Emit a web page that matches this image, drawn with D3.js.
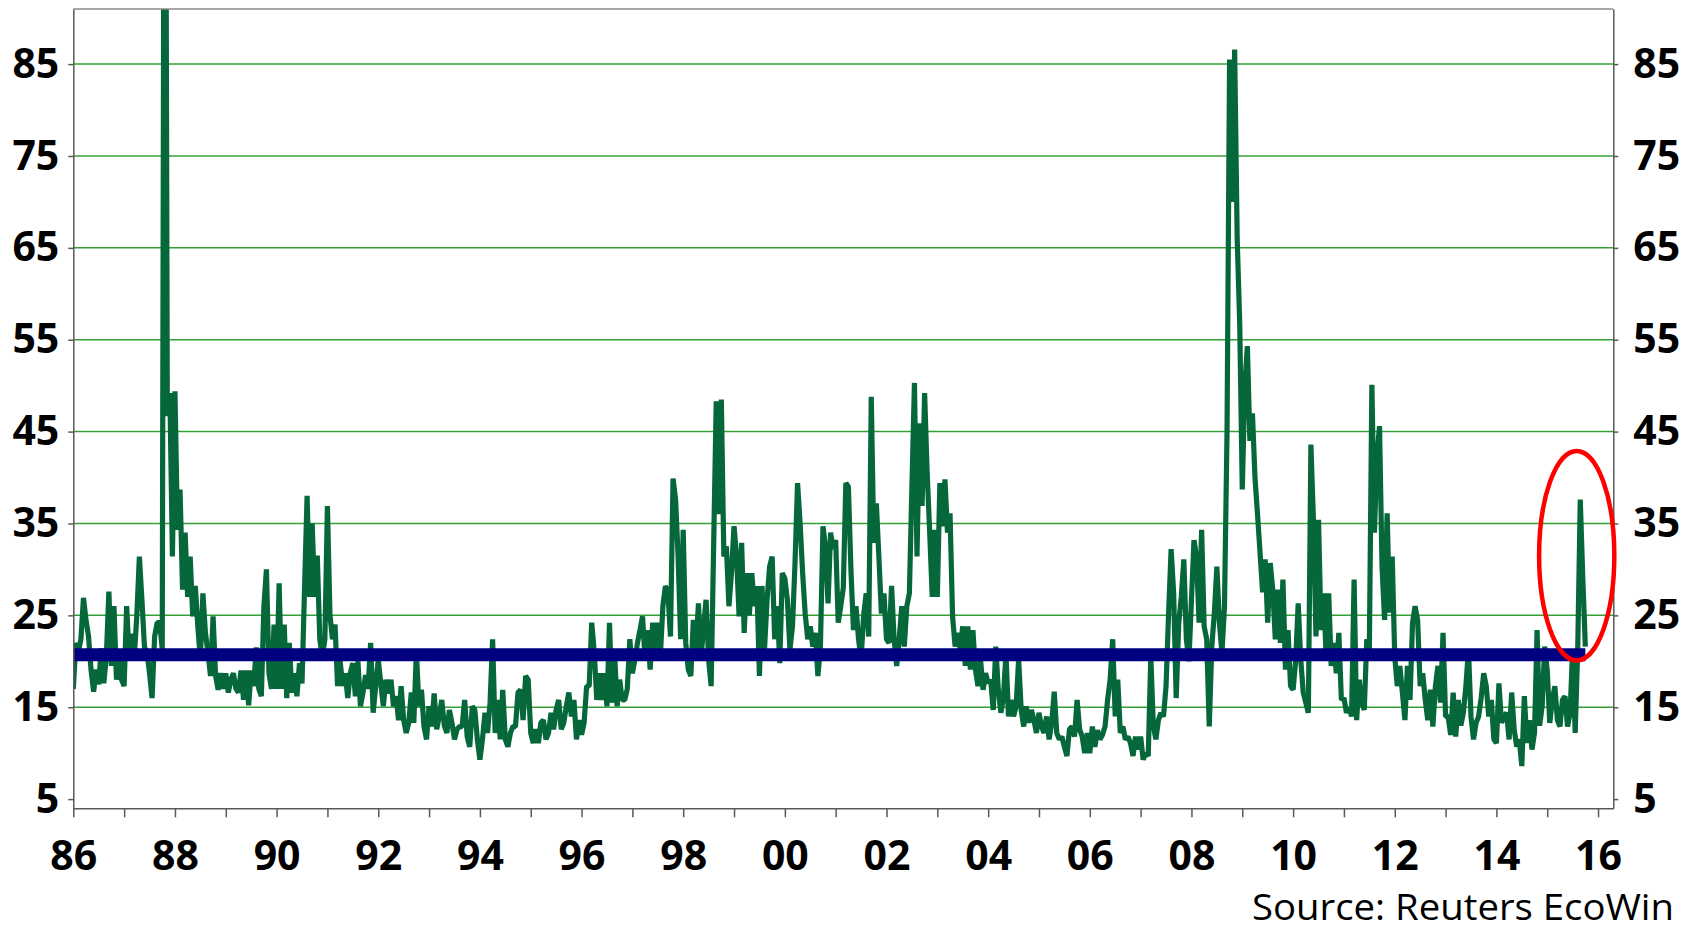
<!DOCTYPE html>
<head>
  <meta charset="utf-8">
  <script src="https://d3js.org/d3.v7.min.js"></script>
  <style>
    body { margin: 0; background: #fff; }
    text { font-family: "Open Sans", "Liberation Sans", sans-serif; }
  </style>
</head>
<body>
<div id="chart"></div>
<script>
// weekly-ish readings, 20 per year
var vix1986 = [17, 22, 21, 22.4, 26.9, 24.5, 22.7, 19, 16.7, 19.1, 17.5, 21.4, 17.6, 20.5, 27.6, 19.5, 26, 18, 20.9, 18];
var vix1987 = [17.3, 26, 20.2, 23, 20.5, 25, 31.4, 26.7, 21.6, 20.9, 18.7, 16, 22.7, 24.2, 24.2, 21.3, 150, 46.7, 49.2, 31.4];
var vix1988 = [49.4, 34.3, 38.7, 27.8, 34, 27, 31.4, 24.9, 28.2, 23.8, 20.2, 27.4, 23.1, 20.9, 18.4, 24.9, 18.4, 16.9, 18.7, 17];
var vix1989 = [18.7, 16.6, 18, 18.7, 17, 16.6, 19, 15.8, 19, 15.2, 19, 17.3, 21.5, 17, 16.2, 26, 30, 18.7, 17, 24];
var vix1990 = [17, 28.5, 17, 24, 16, 22, 16.6, 18.7, 16.2, 19.8, 17.6, 28, 38, 27, 35, 27, 31.5, 22.4, 20.5, 22.4];
var vix1991 = [36.9, 25, 22.4, 24, 17.3, 20, 17.3, 18.7, 16, 18.7, 19.8, 16.2, 20, 15.1, 16.6, 18.5, 17, 22, 14.4, 17.3];
var vix1992 = [20.2, 17.6, 15.1, 18, 16.5, 18, 15.1, 16.2, 13.6, 17.3, 13.6, 12.2, 13.3, 16.6, 13.3, 21.1, 15.1, 16.9, 12.9, 11.5];
var vix1993 = [15.1, 12.9, 16.5, 12.6, 14, 15.8, 13, 12.2, 14.7, 13.3, 11.5, 12.6, 12.9, 12.9, 15.8, 11.8, 10.7, 15.1, 14.7, 11.5];
var vix1994 = [9.3, 11.5, 14.4, 12.2, 15.5, 22.4, 12.2, 15.8, 11.5, 16.9, 11.5, 10.7, 12.2, 12.9, 12.9, 16.6, 16.9, 13.6, 18.4, 18];
var vix1995 = [12.2, 11.1, 12.6, 11.1, 13.3, 13.6, 11.5, 12.2, 14.4, 12.6, 14.7, 15.8, 12.6, 13.3, 15.1, 16.6, 14, 15.8, 11.5, 13.6];
var vix1996 = [12, 13.3, 17.3, 17.3, 24.2, 21, 15.8, 18.7, 15.8, 18.7, 15.1, 24.2, 15.5, 20.9, 15.1, 18, 15.8, 15.8, 17, 22.4];
var vix1997 = [18.7, 20.2, 22, 23.4, 24.9, 20.2, 23.4, 19.1, 24.2, 20.9, 24.2, 20.5, 26, 28.2, 27.4, 22.7, 39.9, 37.6, 31.4, 22.4];
var vix1998 = [34.3, 22, 19.1, 18.4, 24.5, 21.3, 26.3, 20.2, 23.8, 26.7, 20.2, 17.3, 32.9, 48.3, 36, 48.5, 31.4, 32.5, 26, 29.6];
var vix1999 = [34.7, 31.4, 24.9, 32.9, 23.1, 29.6, 25, 29.6, 26, 28.2, 18.4, 28.2, 21.3, 26.7, 30.3, 31.4, 22.4, 26, 19.8, 29.6];
var vix2000 = [29, 26.7, 21.3, 23.8, 30.7, 39.4, 35, 29.6, 25.2, 22.4, 23.8, 21.6, 23.1, 18.4, 21.6, 34.7, 32.5, 26.3, 34, 32.2];
var vix2001 = [33.2, 24.2, 26, 28, 39.4, 39, 30, 23.4, 26, 22.4, 20.2, 25, 27.4, 22.7, 48.8, 32.9, 37.2, 31.4, 25.2, 27.4];
var vix2002 = [22.4, 22, 28.2, 22.4, 19.5, 22.4, 26, 21.6, 26, 27.4, 39, 50.3, 31.4, 45.9, 36.9, 49.2, 40.5, 34, 27, 34.3];
var vix2003 = [27, 39.4, 34.7, 39.8, 34, 36.1, 24.9, 21.6, 23.1, 21.3, 23.8, 19.5, 23.8, 19.1, 23.4, 19.1, 17.3, 20.2, 16.9, 18.7];
var vix2004 = [17.6, 18, 14.7, 21.6, 16.9, 14.4, 16, 20.9, 14, 15.8, 14, 15.1, 20.2, 14.7, 12.9, 15.1, 13.3, 14.7, 13.6, 12.2];
var vix2005 = [14.4, 12.9, 12.2, 14, 11.5, 13.3, 16.7, 12.2, 11.5, 11.8, 10.7, 9.7, 12.6, 12.9, 11.8, 15.8, 12.6, 11.8, 10, 12.2];
var vix2006 = [10, 12.9, 10.7, 12.5, 11.5, 12, 12.9, 15.8, 18, 22.4, 14, 18, 12.2, 12.9, 11.5, 11.8, 11.1, 9.7, 11.8, 10.4];
var vix2007 = [11.8, 9.3, 10, 9.7, 20.5, 13, 11.5, 13.6, 14.4, 14, 17.3, 25.2, 32.2, 27.4, 16, 24.2, 27, 31.1, 22.4, 20];
var vix2008 = [26.7, 33.2, 31.4, 24.2, 34.3, 23.8, 22.4, 12.9, 21.6, 25.2, 30.3, 24.2, 20.9, 26, 45, 85.5, 70, 86.6, 66, 56.7];
var vix2009 = [38.7, 50, 54.3, 44, 47, 40, 36, 31.8, 27.5, 31.1, 24.2, 30.7, 27.8, 22.4, 27.8, 22, 28.9, 19.1, 23.4, 17.3];
var vix2010 = [16.9, 20, 26.3, 20.2, 16.6, 15.5, 14.4, 43.6, 35.4, 22.7, 35.4, 23.4, 27.4, 20.5, 27.4, 19.5, 22, 18.7, 23.1, 15.8];
var vix2011 = [16, 14.4, 15, 14, 28.9, 13.6, 18, 15.5, 14.7, 22.4, 21.3, 50.1, 34, 42.3, 45.6, 30.3, 24.5, 36.1, 25.3, 31.4];
var vix2012 = [20.5, 17.3, 19.5, 16.6, 13.6, 19.5, 15.8, 24.2, 26, 24.5, 17.3, 18.7, 15.8, 13.6, 16.9, 12.9, 17.3, 19.5, 15.5, 23.1];
var vix2013 = [14, 14, 12, 16.6, 11.8, 15.8, 13, 14.4, 17.3, 21.3, 14, 11.5, 13.3, 14, 16, 18.7, 17.3, 14, 15.8, 11.5];
var vix2014 = [11.1, 17.6, 13.3, 14, 14.4, 11.5, 16.6, 12.6, 10.7, 11.5, 8.6, 16.2, 11.1, 13.6, 10.4, 12.2, 23.4, 13, 15.1, 21.6];
var vix2015 = [19, 13.3, 15.8, 17.3, 13.6, 12.9, 15.8, 16.2, 12.9, 14.4, 21.3, 12.2, 21.3, 37.6, 29, 21.6];

var perYear = 20;
var series = [
  [1986, vix1986], [1987, vix1987], [1988, vix1988], [1989, vix1989], [1990, vix1990],
  [1991, vix1991], [1992, vix1992], [1993, vix1993], [1994, vix1994], [1995, vix1995],
  [1996, vix1996], [1997, vix1997], [1998, vix1998], [1999, vix1999], [2000, vix2000],
  [2001, vix2001], [2002, vix2002], [2003, vix2003], [2004, vix2004], [2005, vix2005],
  [2006, vix2006], [2007, vix2007], [2008, vix2008], [2009, vix2009], [2010, vix2010],
  [2011, vix2011], [2012, vix2012], [2013, vix2013], [2014, vix2014], [2015, vix2015]
];

var yTicks = [5, 15, 25, 35, 45, 55, 65, 75, 85];
var gridValues = [15, 25, 35, 45, 55, 65, 75, 85];
var xTickYears = d3.range(1986, 2017);
var longRunAverage = 20.7;
// highlighted area (in data units): centre date/value and radii
var circled = { date: 2015.58, value: 31.5, dateRadius: 0.74, valueRadius: 11.4 };
var sourceNote = "Source: Reuters EcoWin";

var width = 1695, height = 931;
var margin = { top: 9, right: 81.7, bottom: 122.7, left: 73.3 };

var points = [];
series.forEach(function(s) {
  s[1].forEach(function(v, i) {
    points.push({ date: s[0] + i / perYear, value: v });
  });
});
var lastDate = points[points.length - 1].date;

var x = d3.scaleLinear().domain([1986, 2016.3]).range([margin.left, width - margin.right]);
var y = d3.scaleLinear().domain([4, 91]).range([height - margin.bottom, margin.top]);

var svg = d3.select("#chart").append("svg")
  .attr("width", width)
  .attr("height", height);

svg.append("defs").append("clipPath").attr("id", "plot")
  .append("rect")
  .attr("x", x.range()[0]).attr("y", y.range()[1])
  .attr("width", x.range()[1] - x.range()[0])
  .attr("height", y.range()[0] - y.range()[1]);

// gridlines
svg.append("g").selectAll("line")
  .data(gridValues)
  .enter().append("line")
  .attr("x1", x.range()[0]).attr("x2", x.range()[1])
  .attr("y1", function(d) { return y(d); })
  .attr("y2", function(d) { return y(d); })
  .attr("stroke", "#35a035")
  .attr("stroke-width", 1.5);

var line = d3.line()
  .x(function(d) { return x(d.date); })
  .y(function(d) { return y(d.value); });

svg.append("path")
  .datum(points)
  .attr("clip-path", "url(#plot)")
  .attr("d", line)
  .attr("fill", "none")
  .attr("stroke", "#06683a")
  .attr("stroke-width", 5.2)
  .attr("stroke-linejoin", "bevel");

// long-run average band
svg.append("line")
  .attr("x1", x(1986)).attr("x2", x(lastDate))
  .attr("y1", y(longRunAverage)).attr("y2", y(longRunAverage))
  .attr("stroke", "#000080")
  .attr("stroke-width", 13);

// top of the frame
svg.append("line")
  .attr("x1", x.range()[0]).attr("x2", x.range()[1])
  .attr("y1", y.range()[1]).attr("y2", y.range()[1])
  .attr("stroke", "#8a8a8a").attr("stroke-width", 1.5);

function styleAxis(g) {
  g.attr("font-size", 41)
   .attr("font-family", '"Open Sans", "Liberation Sans", sans-serif')
   .attr("font-weight", 700);
  g.select(".domain").attr("stroke", "#595959").attr("stroke-width", 1.5);
  g.selectAll(".tick line").attr("stroke", "#595959").attr("stroke-width", 1.5);
  g.selectAll(".tick text").attr("fill", "#000");
}

svg.append("g")
  .attr("transform", "translate(" + x.range()[0] + ",0)")
  .call(d3.axisLeft(y).tickValues(yTicks).tickSize(5).tickSizeOuter(0).tickPadding(9))
  .call(styleAxis);

svg.append("g")
  .attr("transform", "translate(" + x.range()[1] + ",0)")
  .call(d3.axisRight(y).tickValues(yTicks).tickSize(5).tickSizeOuter(0).tickPadding(15))
  .call(styleAxis);

svg.append("g")
  .attr("transform", "translate(0," + y.range()[0] + ")")
  .call(d3.axisBottom(x).tickValues(xTickYears).tickSize(9).tickSizeOuter(0)
    .tickFormat(function(d) { return d % 2 === 0 ? d3.format("02")(d % 100) : ""; }))
  .call(styleAxis)
  .call(function(g) {
    g.selectAll(".tick text").attr("y", 62).attr("dy", null);
  });

// red ellipse around the latest spike
svg.append("ellipse")
  .attr("cx", x(circled.date))
  .attr("cy", y(circled.value))
  .attr("rx", x(circled.date + circled.dateRadius) - x(circled.date))
  .attr("ry", y(circled.value - circled.valueRadius) - y(circled.value))
  .attr("fill", "none")
  .attr("stroke", "#ff0000")
  .attr("stroke-width", 4.5);

svg.append("text")
  .attr("x", 1674)
  .attr("y", 920)
  .attr("text-anchor", "end")
  .attr("font-size", 36)
  .attr("textLength", 422)
  .attr("lengthAdjust", "spacingAndGlyphs")
  .attr("fill", "#000")
  .text(sourceNote);
</script>
</body>
